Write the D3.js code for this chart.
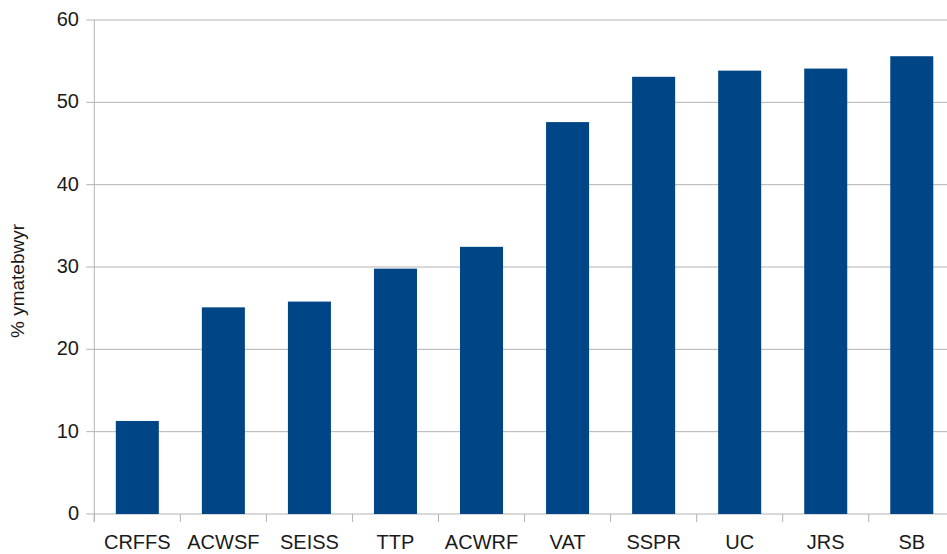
<!DOCTYPE html>
<html>
<head>
<meta charset="utf-8">
<script src="https://cdn.jsdelivr.net/npm/d3@7"></script>
<style>
  html, body { margin: 0; padding: 0; background: #fff; }
  svg { display: block; }
  text { font-family: "Liberation Sans", Arial, sans-serif; }
</style>
</head>
<body>
<svg id="chart" width="947" height="554"></svg>
<script>
const categories = ["CRFFS", "ACWSF", "SEISS", "TTP", "ACWRF", "VAT", "SSPR", "UC", "JRS", "SB"];
const values = [11.3, 25.1, 25.8, 29.8, 32.45, 47.6, 53.1, 53.85, 54.1, 55.6];
const yTicks = [0, 10, 20, 30, 40, 50, 60];
const yLabel = "% ymatebwyr";

(function () {
const svg = d3.select("#chart");
const mLeft = 94.3, mRight = 954.8, mTop = 20, mBottom = 514;

const x = d3.scaleBand().domain(categories).range([mLeft, mRight]).paddingInner(0.5).paddingOuter(0.25);
const xTick = d3.scaleBand().domain(categories).range([mLeft, mRight]);
const y = d3.scaleLinear().domain([0, 60]).range([mBottom, mTop]);

const gridColor = "#b3b3b3";
const textColor = "#1a1a1a";

// horizontal gridlines
svg.append("g").selectAll("line").data(yTicks).join("line")
  .attr("x1", mLeft - 8).attr("x2", 947)
  .attr("y1", d => y(d)).attr("y2", d => y(d))
  .attr("stroke", gridColor).attr("stroke-width", 1);

// y axis line
svg.append("line").attr("x1", mLeft).attr("x2", mLeft).attr("y1", mTop).attr("y2", mBottom + 8)
  .attr("stroke", gridColor).attr("stroke-width", 1);

// category ticks
svg.append("g").selectAll("line").data(categories).join("line")
  .attr("x1", d => xTick(d)).attr("x2", d => xTick(d))
  .attr("y1", mBottom).attr("y2", mBottom + 8)
  .attr("stroke", gridColor).attr("stroke-width", 1);

// bars
svg.append("g").selectAll("rect").data(categories).join("rect")
  .attr("x", d => x(d))
  .attr("width", x.bandwidth())
  .attr("y", (d, i) => y(values[i]))
  .attr("height", (d, i) => y(0) - y(values[i]))
  .attr("fill", "#004586");

// y tick labels
svg.append("g").selectAll("text").data(yTicks).join("text")
  .attr("x", 79).attr("y", d => y(d) + 6)
  .attr("text-anchor", "end")
  .attr("font-size", 20)
  .attr("fill", textColor)
  .text(d => d);

// x labels
svg.append("g").selectAll("text").data(categories).join("text")
  .attr("x", d => xTick(d) + xTick.bandwidth() / 2)
  .attr("y", 548.5)
  .attr("text-anchor", "middle")
  .attr("font-size", 20)
  .attr("fill", textColor)
  .text(d => d);

// y axis title
svg.append("text")
  .attr("transform", `translate(24, 281) rotate(-90)`)
  .attr("text-anchor", "middle")
  .attr("font-size", 19)
  .attr("fill", textColor)
  .text(yLabel);
})();
</script>
</body>
</html>
